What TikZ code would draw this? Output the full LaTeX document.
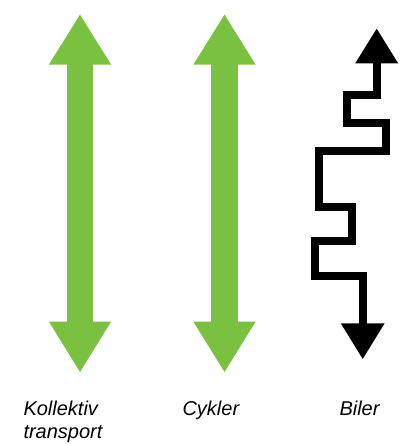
\documentclass[tikz,border=0pt]{standalone}
\usepackage{fontspec}
\setmainfont{Liberation Sans}
\usetikzlibrary{arrows.meta}

\definecolor{modegreen}{RGB}{122,193,66}

\tikzset{
  mode-green/.style={draw=modegreen, line width=26.7pt,
    {Triangle[length=50.5pt, width=58.3pt]}-{Triangle[length=51pt, width=58.3pt]}},
  mode-black/.style={draw=black, line width=8pt, line join=miter,
    {Triangle[length=35pt, width=40.6pt]}-{Triangle[length=36pt, width=41.6pt]}},
  mode-label/.style={font=\itshape\fontsize{20}{23.3}\selectfont, inner sep=0pt,
    anchor=base west, align=left},
}

\begin{document}
\begin{tikzpicture}[x=1pt, y=-1pt]
    \useasboundingbox (0,0) rectangle (410,444);

    % Ends of the arrows
    \coordinate (bus-top) at (80,14);
    \coordinate (bus-bot) at (80,372.7);
    \coordinate (bike-top) at (224.5,14);
    \coordinate (bike-bot) at (224.5,372.7);
    \coordinate (car-top) at (376.7,28.3);
    \coordinate (car-bot) at (362.7,359.3);

    % Arrows: straight (green)
    \draw[mode-green] (bus-top) -- (bus-bot);
    \draw[mode-green] (bike-top) -- (bike-bot);

    % Arrow: zigzag (black)
    \draw[mode-black] (car-top) -- (376.7,94.7) -- (347.3,94.7) -- (347.3,123.3)
        -- (386,123.3) -- (386,151.3) -- (319,151.3) -- (319,206.7)
        -- (352,206.7) -- (352,240.7) -- (315.3,240.7) -- (315.3,276)
        -- (362.7,276) -- (car-bot);

    % Labels (base of a two-line node is its last line)
    \node[mode-label] (bus)  at (23.3,438.3) {Kollektiv\\transport};
    \node[mode-label] (bike) at (182.3,415)  {Cykler};
    \node[mode-label] (car)  at (339.3,415)  {Biler};

\end{tikzpicture}
\end{document}
